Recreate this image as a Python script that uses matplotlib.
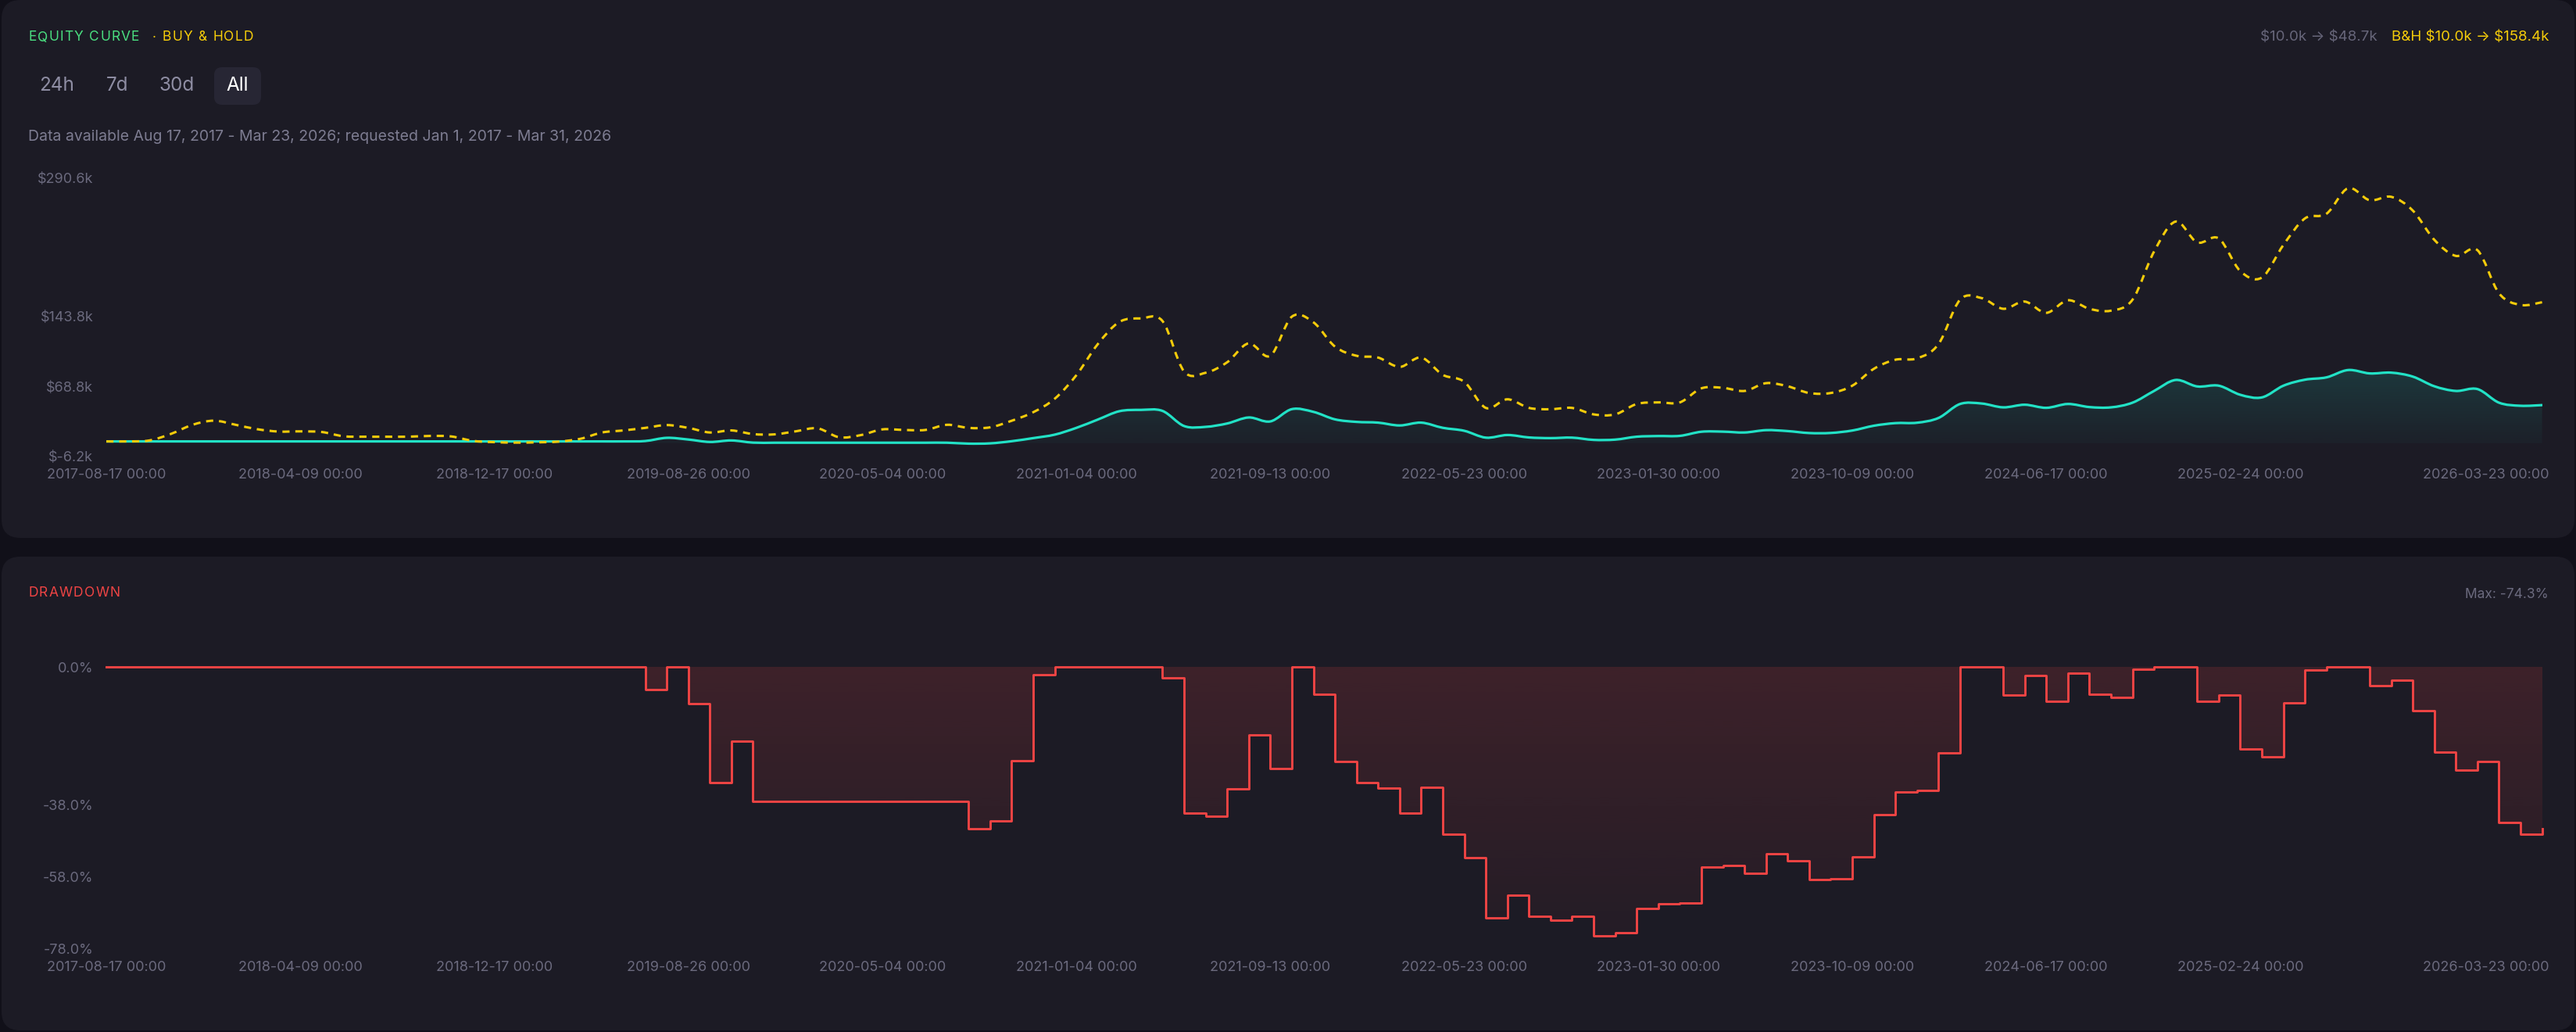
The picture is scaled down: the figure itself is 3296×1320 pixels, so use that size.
import matplotlib
matplotlib.use("Agg")
import matplotlib.pyplot as plt
import matplotlib.colors as mcolors
import numpy as np
from matplotlib.path import Path
from matplotlib.patches import PathPatch, FancyBboxPatch
from matplotlib.transforms import ScaledTranslation

# values in $k, one point every 4 weeks
strategy = [
    10.0, 10.0, 10.0, 10.0, 10.0, 10.0, 10.0, 10.0, 10.0, 10.0,
    10.0, 10.0, 10.0, 10.0, 10.0, 10.0, 10.0, 10.0, 10.0, 10.0,
    10.0, 10.0, 10.0, 10.0, 10.0, 10.4, 13.8, 12.0, 9.4, 11.0,
    8.7, 8.6, 8.6, 8.6, 8.6, 8.6, 8.6, 8.6, 8.6, 8.6,
    7.6, 7.9, 10.2, 13.5, 17.2, 24.4, 33.3, 42.2, 43.6, 42.5,
    26.4, 25.5, 29.1, 35.5, 31.3, 44.4, 41.5, 33.5, 30.8, 30.0,
    27.0, 30.0, 24.5, 21.3, 14.0, 16.8, 14.2, 13.5, 14.0, 11.6,
    11.9, 15.0, 15.7, 15.9, 20.3, 20.4, 19.5, 22.0, 21.0, 18.9,
    19.0, 21.6, 26.7, 29.5, 29.9, 35.0, 49.9, 50.4, 46.3, 49.1,
    45.8, 49.9, 46.6, 46.3, 51.3, 63.8, 75.5, 68.6, 69.4, 59.7,
    56.9, 69.4, 75.8, 78.3, 86.1, 82.5, 83.3, 79.1, 68.8, 63.8,
    65.8, 51.3, 48.0, 48.7,
]
buy_hold = [
    10.0, 10.0, 11.0, 18.0, 27.7, 32.1, 27.7, 23.0, 20.5, 20.7,
    20.0, 15.5, 15.0, 15.0, 15.0, 15.8, 15.3, 10.6, 9.2, 8.7,
    9.0, 9.8, 12.8, 19.5, 21.7, 24.4, 27.4, 24.4, 19.5, 21.7,
    17.8, 17.5, 20.8, 23.9, 14.4, 16.7, 22.8, 22.2, 22.2, 27.7,
    24.4, 25.0, 32.0, 41.1, 55.5, 80.5, 113.8, 137.4, 141.1, 138.3,
    84.6, 83.2, 94.4, 114.6, 101.3, 143.0, 137.0, 111.1, 101.3, 99.4,
    89.4, 99.4, 81.0, 73.5, 45.7, 54.9, 45.7, 44.3, 45.7, 38.8,
    38.8, 49.9, 51.6, 51.6, 66.6, 67.1, 63.8, 72.1, 68.8, 61.6,
    61.6, 69.4, 87.4, 97.1, 98.5, 113.8, 161.1, 162.8, 151.4, 159.1,
    147.1, 160.5, 151.4, 149.4, 161.1, 212.5, 244.4, 222.2, 226.4, 191.6,
    184.7, 219.5, 247.8, 252.8, 280.0, 267.2, 270.8, 256.2, 225.0, 207.8,
    213.9, 168.0, 155.5, 158.4,
]
# drawdown in %
drawdown = [
    0.0, 0.0, 0.0, 0.0, 0.0, 0.0, 0.0, 0.0, 0.0, 0.0,
    0.0, 0.0, 0.0, 0.0, 0.0, 0.0, 0.0, 0.0, 0.0, 0.0,
    0.0, 0.0, 0.0, 0.0, 0.0, -6.3, 0.0, -10.2, -32.0, -20.4,
    -37.1, -37.1, -37.1, -37.1, -37.1, -37.1, -37.1, -37.1, -37.1, -37.1,
    -44.8, -42.6, -25.9, -2.2, 0.0, 0.0, 0.0, 0.0, 0.0, -3.0,
    -40.3, -41.2, -33.6, -18.8, -28.1, 0.0, -7.4, -26.2, -32.0, -33.5,
    -40.3, -33.3, -46.2, -52.6, -69.3, -63.1, -69.0, -70.1, -68.9, -74.3,
    -73.4, -66.8, -65.5, -65.2, -55.2, -54.9, -57.0, -51.6, -53.6, -58.7,
    -58.5, -52.5, -40.9, -34.6, -34.1, -23.7, 0.0, 0.0, -7.8, -2.3,
    -9.5, -1.7, -7.5, -8.4, -0.6, 0.0, 0.0, -9.5, -7.7, -22.7,
    -24.9, -9.8, -0.8, 0.0, 0.0, -5.1, -3.6, -12.0, -23.5, -28.4,
    -26.2, -42.9, -46.3, -44.8,
]

tick_idx = [0, 9, 18, 27, 36, 45, 54, 63, 72, 81, 90, 99, 113]
tick_dates = ["2017-08-17", "2018-04-09", "2018-12-17", "2019-08-26", "2020-05-04",
              "2021-01-04", "2021-09-13", "2022-05-23", "2023-01-30", "2023-10-09",
              "2024-06-17", "2025-02-24", "2026-03-23"]
eq_ticks = [-6.2, 68.8, 143.8, 290.6]
dd_ticks = [0.0, -38.0, -58.0, -78.0]

start_cap = 10.0
final_eq = 48.7
final_bh = 158.4
max_dd = -74.3
ranges = ["24h", "7d", "30d", "All"]
note = "Data available Aug 17, 2017 - Mar 23, 2026; requested Jan 1, 2017 - Mar 31, 2026"

BG = "#111019"
PANEL = "#1c1b25"
TEAL = "#22e2c6"
YELLOW = "#f5cc0a"
GREEN = "#4ade80"
RED = "#ef4444"
GREY = "#6b6a7e"

plt.rcParams["font.family"] = ["Inter", "DejaVu Sans"]

W, H = 3296, 1320
fig = plt.figure(figsize=(W / 100, H / 100), dpi=100)
fig.patch.set_facecolor(BG)
renderer = fig.canvas.get_renderer()


def fx(x):
    return x / W


def fy(y):
    return 1 - y / H


def spaced(x0, y0, s, gap, **kw):
    # text with a bit of letter spacing, drawn char by char
    cur = x0
    size = kw.get("fontsize", 12) * 100 / 72
    for ch in s:
        if ch == " ":
            cur += 0.28 * size + gap
            continue
        t = fig.text(fx(cur), fy(y0), ch, va="center", **kw)
        cur += t.get_window_extent(renderer).width + gap
    return cur


# panels (inches, from bottom left)
for top, bottom in [(0, 688), (712, 1318)]:
    p = FancyBboxPatch((0.02, (H - bottom) / 100), 32.92, (bottom - top) / 100,
                       boxstyle="round,pad=0,rounding_size=0.24",
                       transform=fig.dpi_scale_trans, facecolor=PANEL, edgecolor="none",
                       zorder=-10)
    fig.patches.append(p)

btn = FancyBboxPatch((2.74, (H - 134) / 100), 0.60, 0.48,
                     boxstyle="round,pad=0,rounding_size=0.1",
                     transform=fig.dpi_scale_trans, facecolor="#272634", edgecolor="none",
                     zorder=-9)
fig.patches.append(btn)


def smooth(x, y):
    pts = np.column_stack([x, y]).astype(float)
    verts = [pts[0]]
    codes = [Path.MOVETO]
    n = len(pts)
    for i in range(n - 1):
        p0 = pts[max(i - 1, 0)]
        p1 = pts[i]
        p2 = pts[i + 1]
        p3 = pts[min(i + 2, n - 1)]
        verts += [p1 + (p2 - p0) / 6, p2 - (p3 - p1) / 6, p2]
        codes += [Path.CURVE4] * 3
    return verts, codes


def gradient(ax, clip_path, color, a_top, a_bot, y_top, y_bot, x0, x1):
    g = np.zeros((256, 1, 4))
    g[:, :, :3] = mcolors.to_rgb(color)
    g[:, 0, 3] = np.linspace(a_top, a_bot, 256)
    im = ax.imshow(g, aspect="auto", extent=[x0, x1, y_bot, y_top], origin="upper",
                   zorder=1, interpolation="bilinear")
    im.set_clip_path(clip_path, ax.transData)


def style_axis(ax):
    ax.set_facecolor("none")
    for s in ax.spines.values():
        s.set_visible(False)
    ax.tick_params(length=0, colors=GREY, labelsize=13)
    ax.tick_params(axis="y", pad=12)
    ax.tick_params(axis="x", pad=11)
    ax.set_xticks(tick_idx)
    ax.set_xticklabels([d + " 00:00" for d in tick_dates])
    last = ax.get_xticklabels()[-1]
    last.set_ha("right")
    last.set_transform(last.get_transform() + ScaledTranslation(0.09, 0, fig.dpi_scale_trans))


x = np.arange(len(strategy))

# equity curve
ax1 = fig.add_axes([fx(136), fy(584), fx(3252.6) - fx(136), 356 / H])
style_axis(ax1)
base = min(strategy)
v, c = smooth(x, strategy)
area = Path(v + [(x[-1], base), (x[0], base), (x[0], base)],
            c + [Path.LINETO, Path.LINETO, Path.CLOSEPOLY])
gradient(ax1, area, TEAL, 0.15, 0.03, max(strategy), base, x[0], x[-1])
ax1.add_patch(PathPatch(Path(v, c), facecolor="none", edgecolor=TEAL, lw=2.3,
                        zorder=3, capstyle="round", joinstyle="round"))
vb, cb = smooth(x, buy_hold)
ax1.add_patch(PathPatch(Path(vb, cb), facecolor="none", edgecolor=YELLOW, lw=2.2,
                        linestyle=(0, (3.0, 2.4)), zorder=4))
ax1.set_xlim(0, len(x) - 1)
ax1.set_ylim(eq_ticks[0], eq_ticks[-1])
ax1.set_yticks(eq_ticks)
ax1.set_yticklabels(["\\$%.1fk" % t for t in eq_ticks])

# drawdown
ax2 = fig.add_axes([fx(136), fy(1214), fx(3252.6) - fx(136), (1214 - 853.3) / H])
style_axis(ax2)
fb = ax2.fill_between(x, drawdown, 0, step="post", color="none", lw=0)
gradient(ax2, fb.get_paths()[0], RED, 0.16, 0.04, 0, min(drawdown), x[0], x[-1])
ax2.plot(x, drawdown, drawstyle="steps-post", color=RED, lw=2.1, zorder=3, clip_on=False)
ax2.set_xlim(0, len(x) - 1)
ax2.set_ylim(dd_ticks[-1], 0)
ax2.set_yticks(dd_ticks)
ax2.set_yticklabels(["%.1f%%" % t for t in dd_ticks])

# header texts
spaced(36, 48, "EQUITY CURVE", 1.3, color=GREEN, fontsize=12.5)
spaced(195, 48, "· BUY & HOLD", 1.3, color=YELLOW, fontsize=12.5)
for lab, cx in zip(ranges, [73, 150, 226, 304]):
    fig.text(fx(cx), fy(110), lab, color="white" if lab == "All" else "#8e8da3",
             fontsize=17.5, ha="center", va="center")
fig.text(fx(36), fy(175), note, color="#7d7c91", fontsize=14, va="center")
fig.text(fx(3262), fy(48), "B&H \\$%.1fk → \\$%.1fk" % (start_cap, final_bh),
         color=YELLOW, fontsize=13.5, ha="right", va="center")
fig.text(fx(3042), fy(48), "\\$%.1fk → \\$%.1fk" % (start_cap, final_eq),
         color="#67667a", fontsize=13.5, ha="right", va="center")
spaced(36, 759, "DRAWDOWN", 1.3, color=RED, fontsize=12.5)
fig.text(fx(3261), fy(760), "Max: %.1f%%" % max_dd, color=GREY, fontsize=12.5,
         ha="right", va="center")

fig.savefig("out.png", dpi=100, facecolor=BG)
